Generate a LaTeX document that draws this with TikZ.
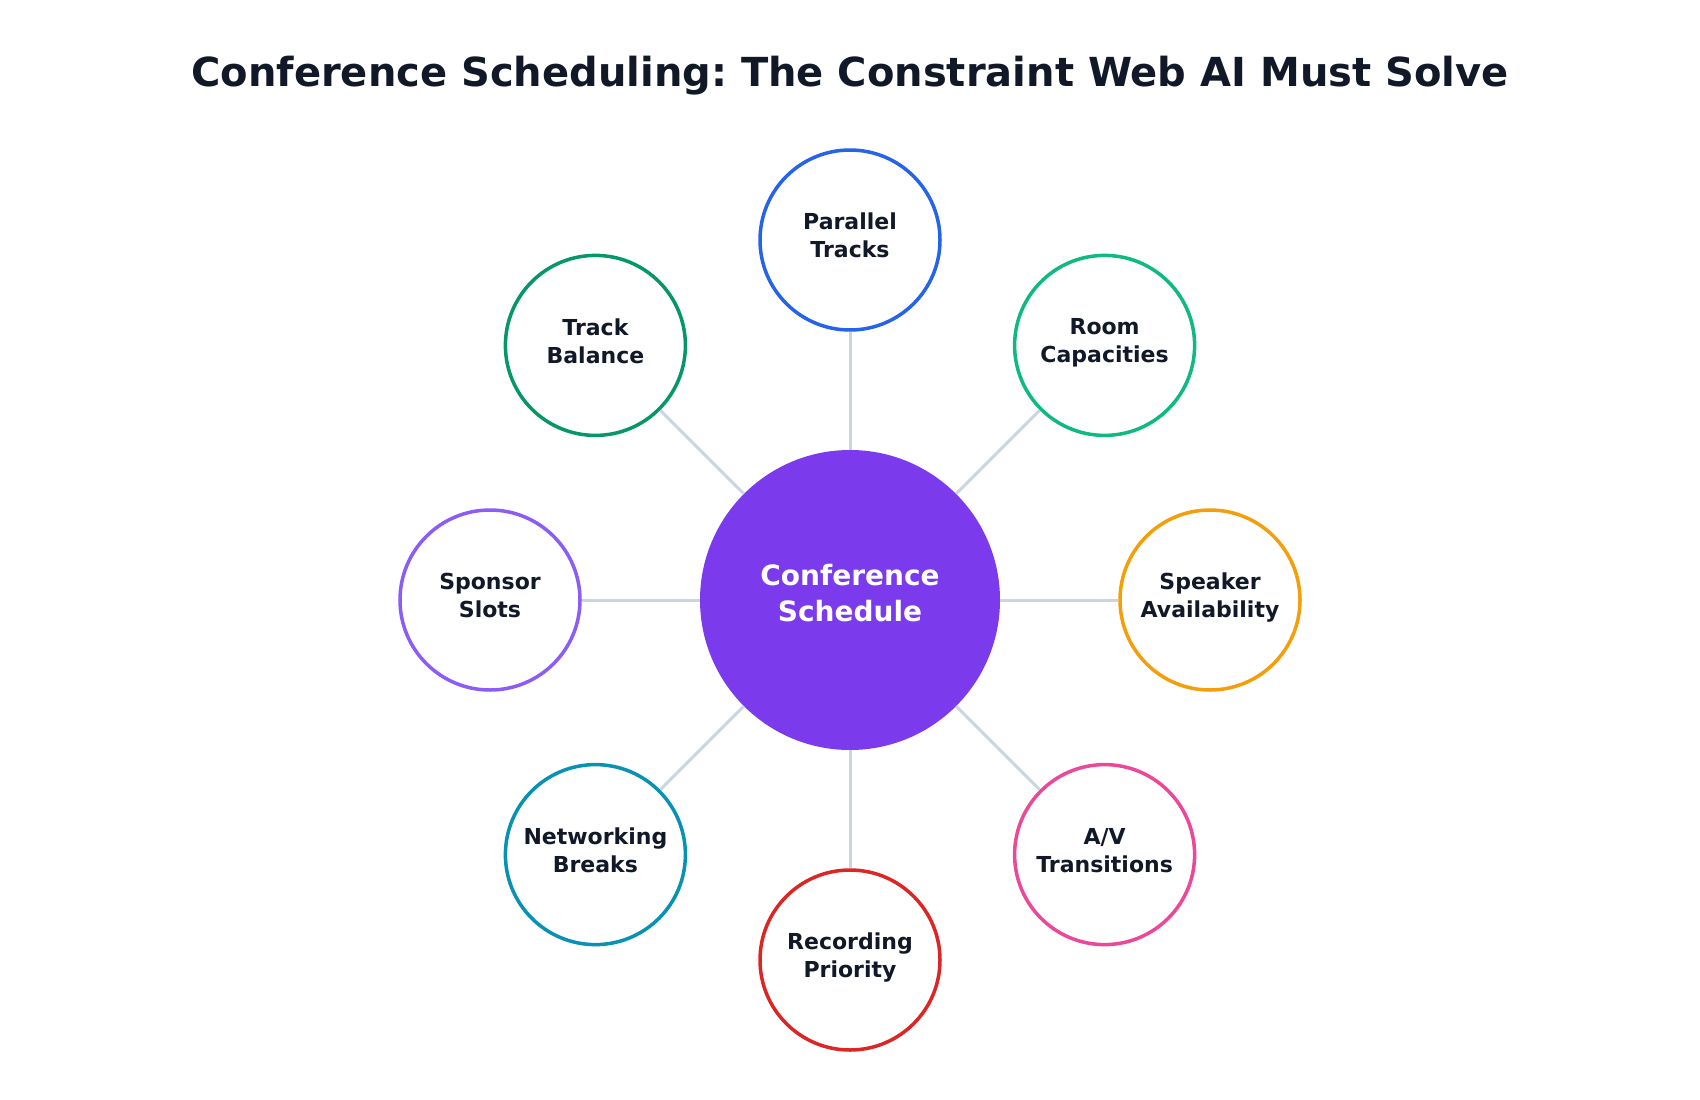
\documentclass[tikz,border=0pt]{standalone}
\usepackage{fontspec}
\setmainfont{DejaVu Sans}
\usetikzlibrary{positioning}
\frenchspacing
\definecolor{ink}{HTML}{111827}
\definecolor{violet}{HTML}{7C3AED}
\definecolor{slate}{HTML}{CBD5E1}
\definecolor{blue}{HTML}{2563EB}
\definecolor{emerald}{HTML}{10B981}
\definecolor{amber}{HTML}{F59E0B}
\definecolor{rose}{HTML}{EC4899}
\definecolor{crimson}{HTML}{DC2626}
\definecolor{cyan}{HTML}{0891B2}
\definecolor{lilac}{HTML}{8B5CF6}
\definecolor{forest}{HTML}{059669}

\begin{document}
\begin{tikzpicture}[x=1pt,y=-1pt,
    hub/.style={circle,fill=violet,minimum size=300pt,inner sep=0pt,text depth=15pt,
      text=white,align=center,font=\bfseries\fontsize{28}{36}\selectfont},
    factor/.style={circle,draw=#1,line width=3.5pt,fill=white,minimum size=180pt,
      inner sep=0pt,text depth=9pt,text=ink,align=center,
      font=\bfseries\fontsize{22}{28}\selectfont},
    link/.style={draw=slate,line width=3pt}]
    \useasboundingbox (0,0) rectangle (1700,1100);
    \node[ink,font=\bfseries\fontsize{40}{48}\selectfont] (title) at (850,76)
      {Conference Scheduling: The Constraint Web AI Must Solve};
    \node[hub] (hub) at (850,600) {Conference\\ Schedule};
    \node[factor=blue] (tracks) at (850,240) {Parallel\\ Tracks};
    \node[factor=emerald] (rooms) at (1104.6,345.4) {Room\\ Capacities};
    \node[factor=amber] (speakers) at (1210,600) {Speaker\\ Availability};
    \node[factor=rose] (av) at (1104.6,854.6) {A/V\\ Transitions};
    \node[factor=crimson] (rec) at (850,960) {Recording\\ Priority};
    \node[factor=cyan] (breaks) at (595.4,854.6) {Networking\\ Breaks};
    \node[factor=lilac] (sponsor) at (490,600) {Sponsor\\ Slots};
    \node[factor=forest] (balance) at (595.4,345.4) {Track\\ Balance};
    \draw[link] (hub) -- (tracks);
    \draw[link] (hub) -- (rooms);
    \draw[link] (hub) -- (speakers);
    \draw[link] (hub) -- (av);
    \draw[link] (hub) -- (rec);
    \draw[link] (hub) -- (breaks);
    \draw[link] (hub) -- (sponsor);
    \draw[link] (hub) -- (balance);
  \end{tikzpicture}
\end{document}
